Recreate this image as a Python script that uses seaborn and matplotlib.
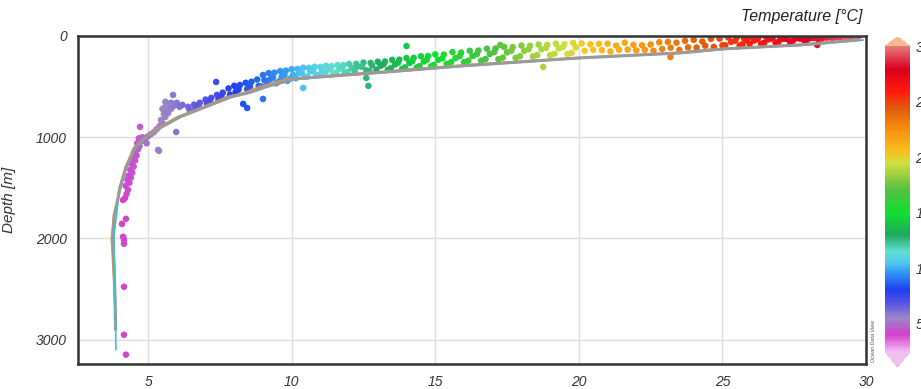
import numpy as np
import pandas as pd
import seaborn as sns
import matplotlib.pyplot as plt
from matplotlib.colors import LinearSegmentedColormap, Normalize
from matplotlib.cm import ScalarMappable

# profile lines (depth in m, temperature in degC)
prof_depth = [40, 89, 128, 168, 217, 296, 360, 385, 425, 500, 563, 602, 700, 800, 900, 1000,
              1100, 1300, 1500, 1650, 1770, 2000, 2300, 2600, 2900]
prof_grey = [29.7, 27.7, 25.0, 23.5, 20.0, 15.9, 13.1, 11.9, 10.05, 9.1, 8.45, 7.86, 7.0, 6.1,
             5.45, 4.95, 4.55, 4.23, 4.02, 3.92, 3.82, 3.78, 3.82, 3.85, 3.87]
prof_orange = [29.5, 27.4, 24.7, 23.2, 19.7, 15.5, 12.7, 11.5, 9.8, 8.9, 8.3, 7.72, 6.9, 6.0,
               5.38, 4.9, 4.5, 4.2, 4.0, 3.9, 3.8, 3.72, 3.78, 3.83, 3.86]
prof_blue = [29.9, 27.9, 25.2, 23.7, 20.2, 16.1, 13.3, 12.1, 10.2, 9.2, 8.55, 7.95, 7.05, 6.15,
             5.5, 5.0, 4.6, 4.25, 4.05, 3.93, 3.84, 3.8, 3.83, 3.86, 3.88]
cyan_depth = [1650, 2000, 2500, 2900, 3100]
cyan_temp = [3.95, 3.8, 3.84, 3.87, 3.88]

# bottle samples: scattered / outlying points
samp_temp = [
    4.23, 4.16, 4.16, 4.16, 4.16, 4.13, 4.09, 4.23, 4.2, 4.13, 4.25, 4.3, 4.22, 4.35, 4.28, 4.4,
    4.32, 4.45, 4.38, 4.5, 4.42, 4.55, 4.48, 4.6, 4.52, 4.65, 4.7, 4.62, 4.75, 4.68, 4.8, 4.85,
    4.9, 4.72, 5.0, 5.1, 5.35, 4.95,
    5.2, 5.3, 5.4, 5.5, 5.45, 5.6, 5.55, 5.7, 5.65, 5.8, 5.75, 5.9, 5.87, 5.6, 5.7, 5.98, 5.38,
    6.0, 6.1, 6.2, 5.5, 5.6, 5.8,
    7.37, 8.31, 8.45, 9.0, 10.4, 12.67, 12.6, 14.0, 17.26, 18.76, 23.19, 28.3,
]
samp_depth = [
    3148, 2951, 2477, 2053, 2013, 1984, 1856, 1806, 1600, 1620, 1560, 1520, 1480, 1450, 1420, 1400,
    1380, 1350, 1320, 1290, 1260, 1230, 1200, 1180, 1150, 1120, 1090, 1060, 1040, 1010, 1000, 1030,
    1015, 898, 990, 970, 1125, 1060,
    950, 920, 890, 860, 830, 800, 770, 760, 740, 720, 700, 690, 582, 650, 670, 948, 1135,
    660, 700, 680, 720, 700, 660,
    454, 671, 711, 622, 513, 493, 415, 99, 89, 306, 207, 89,
]

# bottle samples: dense band above the profile
band_temp = [
    6.4, 6.45, 6.6, 6.65, 6.8, 6.75, 7.0, 7.05, 7.2, 7.15, 7.4, 7.45, 7.6, 7.55, 7.8, 7.85,
    8.0, 8.05, 8.2, 8.15, 8.4, 8.45, 8.6, 8.55, 8.8, 8.85,
    9.0, 9.05, 8.95, 9.2, 9.25, 9.15, 9.4, 9.35, 9.45, 9.6, 9.65, 9.55, 9.8, 9.75, 9.85,
    10.0, 10.05, 9.95, 10.2, 10.25, 10.15, 10.4, 10.35, 10.45, 10.6, 10.65, 10.55, 10.8, 10.75, 10.85,
    11.0, 11.05, 10.95, 11.2, 11.25, 11.15, 11.4, 11.35, 11.45, 11.6, 11.65, 11.55, 11.8, 11.75, 11.85,
    12.0, 12.1, 11.95, 12.25, 12.3, 12.2, 12.5, 12.45, 12.6, 12.75, 12.8, 12.7,
    13.0, 13.1, 12.95, 13.25, 13.2, 13.35, 13.5, 13.6, 13.45, 13.75, 13.7, 13.85,
    14.0, 14.1, 13.95, 14.25, 14.2, 14.35, 14.5, 14.6, 14.45, 14.75, 14.7, 14.85,
    15.0, 15.1, 14.95, 15.3, 15.25, 15.4, 15.6, 15.7, 15.55, 15.9, 15.85, 16.0,
    16.2, 16.3, 16.15, 16.5, 16.45, 16.6, 16.8, 16.9, 16.75, 17.1, 17.05, 17.2,
    17.4, 17.5, 17.35, 17.7, 17.65, 17.8, 18.0, 18.1, 17.95, 18.3, 18.25, 18.4,
    18.6, 18.7, 18.55, 18.9, 18.85, 19.0, 19.2, 19.3, 19.15, 19.5, 19.45, 19.6, 19.8, 19.9, 19.75,
    20.1, 20.2, 20.4, 20.5, 20.7, 20.8, 21.0, 21.1, 21.3, 21.4, 21.6, 21.7, 21.9, 22.0,
    22.2, 22.3, 22.5, 22.6, 22.8, 22.9, 23.1, 23.2, 23.4, 23.5, 23.7, 23.8, 24.0, 24.1,
    24.3, 24.4, 24.6, 24.7, 24.9, 25.0,
    25.2, 25.3, 25.1, 25.5, 25.45, 25.6, 25.75, 25.85, 25.7, 26.0, 26.1, 25.95,
    26.25, 26.2, 26.35, 26.5, 26.6, 26.45, 26.75, 26.7, 26.85, 27.0, 27.1, 26.95,
    27.25, 27.2, 27.35, 27.5, 27.6, 27.45, 27.75, 27.7, 27.85, 28.0, 28.1, 27.95,
    28.25, 28.2, 28.35, 28.5, 28.6, 28.45, 28.75, 28.7, 28.85,
    29.0, 29.1, 29.25, 29.3, 29.5, 29.45, 29.75, 29.7,
]
band_depth = [
    700, 735, 678, 712, 660, 686, 628, 668, 612, 640, 582, 628, 560, 596, 518, 578,
    492, 552, 484, 530, 462, 524, 452, 500, 430, 494,
    385, 436, 498, 366, 428, 476, 362, 410, 468, 346, 404, 450, 342, 386, 444,
    328, 384, 420, 326, 366, 418, 314, 362, 402, 316, 348, 400, 304, 348, 386,
    306, 334, 384, 294, 336, 370, 298, 324, 372, 286, 326, 360, 288, 314, 364,
    276, 316, 352, 274, 302, 354, 262, 304, 340, 266, 290, 344,
    254, 294, 332, 252, 280, 334, 236, 282, 320, 234, 266, 324,
    218, 266, 310, 216, 250, 312, 200, 252, 298, 198, 236, 300,
    182, 236, 286, 184, 220, 274, 160, 220, 258, 164, 200, 258,
    146, 198, 244, 144, 180, 244, 126, 178, 228, 124, 160, 230,
    108, 162, 214, 110, 146, 216, 94, 146, 200, 96, 130, 202,
    84, 132, 188, 88, 118, 190, 76, 122, 176, 80, 108, 178, 68, 112, 166,
    74, 146, 82, 136, 78, 140, 76, 154, 94, 136, 66, 134, 88, 142,
    92, 138, 84, 146, 62, 128, 58, 116, 66, 138, 48, 112, 38, 114,
    54, 96, 28, 108, 26, 92,
    14, 58, 92, 12, 46, 94, 22, 42, 82, 6, 44, 78,
    14, 32, 76, 4, 34, 68, 16, 26, 66, 4, 28, 58,
    12, 28, 56, 4, 22, 48, 10, 26, 44, 2, 20, 38,
    12, 20, 36, 4, 16, 28, 2, 14, 24,
    8, 20, 2, 12, 6, 14, 2, 10,
]

x_ticks = [5, 10, 15, 20, 25, 30]
y_ticks = [0, 1000, 2000, 3000]
cbar_ticks = [5, 10, 15, 20, 25, 30]

# ODV-like temperature palette
cmap_vals = [2.5, 4.0, 5.5, 7.0, 8.0, 9.5, 10.5, 11.5, 13.0, 15.0, 17.0, 18.5, 19.5, 20.5,
             22.5, 24.5, 26.0, 28.0, 30.0]
cmap_cols = ['#f2b8f0', '#d63fd0', '#9a86c8', '#5050e8', '#1f3ef0', '#2f8ff0', '#50c8f0',
             '#60e0d0', '#20a860', '#10e030', '#50c040', '#a0d040', '#d0e040', '#f8c020',
             '#f89010', '#e05808', '#ff1a10', '#d80020', '#e87878']
vmin, vmax = 2.5, 30.0
odv = LinearSegmentedColormap.from_list(
    'odv', [((v - vmin) / (vmax - vmin), c) for v, c in zip(cmap_vals, cmap_cols)])
odv.set_over('#f8b890')
odv.set_under('#f0c0f0')
norm = Normalize(vmin, vmax)

sns.set_style("white")
plt.rcParams['font.family'] = ['Liberation Sans', 'DejaVu Sans']

fig = plt.figure(figsize=(9.21, 3.89), dpi=100)
ax = fig.add_axes([0.0847, 0.0643, 0.8556, 0.8432])

df = pd.DataFrame({"temp": samp_temp + band_temp, "depth": samp_depth + band_depth})
sns.scatterplot(data=df, x="temp", y="depth", hue="temp", palette=odv, hue_norm=norm,
                s=22, linewidth=0, legend=False, ax=ax, zorder=2)

for temps, col, lw in [(prof_orange, '#f0902a', 1.2), (prof_blue, '#5a8fd8', 1.2),
                       (prof_grey, '#9a9a9a', 2.2)]:
    sns.lineplot(x=temps, y=prof_depth, sort=False, estimator=None, color=col,
                 linewidth=lw, ax=ax, zorder=3)
sns.lineplot(x=cyan_temp, y=cyan_depth, sort=False, estimator=None, color='#3cc0d0',
             linewidth=1.2, ax=ax, zorder=3)

ax.set_xlim(2.56, 30)
ax.set_ylim(3240, 0)
ax.set_xticks(x_ticks)
ax.set_yticks(y_ticks)
ax.grid(True, color='#dddddd', linewidth=1)
ax.set_axisbelow(True)
for s in ax.spines.values():
    s.set_color('#333333')
    s.set_linewidth(1.8)
ax.tick_params(length=0, pad=8, labelsize=10, labelcolor='#333333')
for lab in ax.get_xticklabels() + ax.get_yticklabels():
    lab.set_fontstyle('italic')
ax.set_xlabel("")
ax.set_ylabel("Depth [m]", fontsize=11, fontstyle='italic', color='#333333', labelpad=14)

fig.text(0.936, 0.957, "Temperature [°C]", ha='right', va='center', fontsize=11.5,
         fontstyle='italic', color='#222222')
fig.text(0.948, 0.07, "Ocean Data View", rotation=90, ha='center', va='bottom', fontsize=4,
         fontstyle='italic', color='#555555')

cax = fig.add_axes([0.961, 0.0566, 0.027, 0.848])
cb = fig.colorbar(ScalarMappable(norm=norm, cmap=odv), cax=cax, extend='both',
                  extendfrac=(0.05, 0.03), ticks=cbar_ticks)
cb.outline.set_visible(False)
cax.tick_params(length=0, pad=4, labelsize=10, labelcolor='#333333')
for lab in cax.get_yticklabels():
    lab.set_fontstyle('italic')

fig.savefig("out.png", dpi=100)
